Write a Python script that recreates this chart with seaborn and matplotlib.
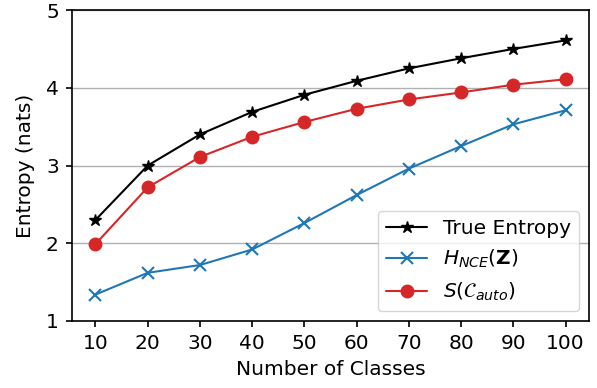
import matplotlib
matplotlib.use("Agg")
import matplotlib.pyplot as plt
import seaborn as sns
import pandas as pd

classes = [10, 20, 30, 40, 50, 60, 70, 80, 90, 100]
true_entropy = [2.30, 3.00, 3.40, 3.69, 3.91, 4.09, 4.25, 4.38, 4.50, 4.61]
h_nce = [1.34, 1.62, 1.72, 1.92, 2.26, 2.62, 2.96, 3.25, 3.53, 3.71]
s_auto = [1.99, 2.72, 3.11, 3.37, 3.56, 3.73, 3.85, 3.94, 4.04, 4.11]

labels = ["True Entropy", r"$H_{NCE}(\mathbf{Z})$", r"$S(\mathcal{C}_{auto})$"]
colors = ["black", "#1f77b4", "#d62728"]
markers = ["*", "x", "o"]
msizes = [9, 8, 9]

sns.set_style("ticks")
plt.rcParams["font.family"] = ["DejaVu Sans"]
plt.rcParams["font.size"] = 14.5
plt.rcParams["text.color"] = "black"
plt.rcParams["axes.labelcolor"] = "black"
plt.rcParams["xtick.color"] = "black"
plt.rcParams["ytick.color"] = "black"
plt.rcParams["axes.edgecolor"] = "black"

fig, ax = plt.subplots(figsize=(5.97, 3.88), dpi=100)
fig.subplots_adjust(left=0.1206, right=0.9866, top=0.974, bottom=0.1727)

for vals, lab, c, m, ms in zip([true_entropy, h_nce, s_auto], labels, colors, markers, msizes):
    df = pd.DataFrame({"x": classes, "y": vals})
    sns.lineplot(data=df, x="x", y="y", ax=ax, color=c, marker=m, markersize=ms,
                 markeredgecolor=c, markeredgewidth=1.5 if m == "x" else 1, label=lab, linewidth=1.5)

ax.set_ylim(1, 5)
ax.set_xlim(5.5, 104.5)
ax.set_xticks(classes)
ax.set_yticks([1, 2, 3, 4, 5])
ax.yaxis.grid(True, color="#b0b0b0", linewidth=1)
ax.set_axisbelow(True)
ax.set_xlabel("Number of Classes", fontsize=14.5, labelpad=5)
ax.set_ylabel("Entropy (nats)", fontsize=14.5, labelpad=8)
ax.tick_params(labelsize=14.5, length=4.5, width=1.2, pad=5)
for s in ax.spines.values():
    s.set_linewidth(1.2)
ax.legend(loc="lower right", fontsize=14.5, frameon=True)

fig.savefig("out.png", dpi=100)
